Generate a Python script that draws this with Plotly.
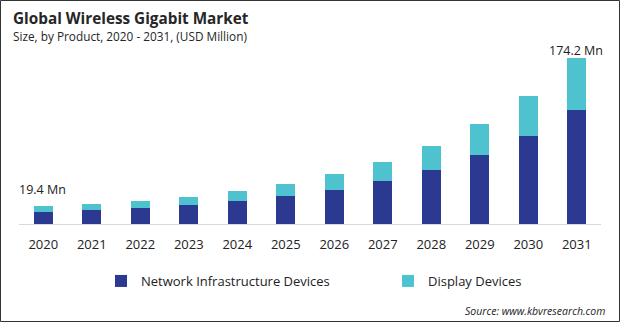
import plotly.graph_objects as go

years = ["2020", "2021", "2022", "2023", "2024", "2025", "2026", "2027", "2028", "2029", "2030", "2031"]
network = [13.0, 14.7, 16.8, 19.9, 24.1, 29.4, 35.7, 45.1, 56.7, 72.4, 92.3, 119.6]
display = [6.4, 6.3, 7.3, 8.4, 10.5, 12.6, 16.8, 19.9, 25.2, 32.5, 42.0, 54.6]
series_names = ["Network Infrastructure Devices", "Display Devices"]
first_label = "19.4 Mn"
last_label = "174.2 Mn"

W, H = 620, 322
ML, MR, MT, MB = 19, 19, 40, 98
PW = W - ML - MR
PH = H - MT - MB
ymax = 174.2 * PH / 166.0

NAVY = "#2B3990"
CYAN = "#4EC3CF"
FONT = "Open Sans"

fig = go.Figure()
fig.add_trace(go.Bar(x=years, y=network, name=series_names[0], marker_color=NAVY,
                     marker_line_width=0, legend="legend"))
fig.add_trace(go.Bar(x=years, y=display, name=series_names[1], marker_color=CYAN,
                     marker_line_width=0, legend="legend2"))

totals = [a + b for a, b in zip(network, display)]

fig.add_annotation(x=0, y=totals[0], text=first_label, showarrow=False,
                   xanchor="center", yanchor="bottom", yshift=6, xshift=-1,
                   font=dict(family=FONT, size=12.5, color="#222222"))
fig.add_annotation(x=len(years) - 1, y=totals[-1], text=last_label, showarrow=False,
                   xanchor="center", yanchor="bottom", yshift=-3, xshift=-1,
                   font=dict(family=FONT, size=12.5, color="#222222"))


def px_x(p):
    return (p - ML) / PW


def px_y(p):
    return 1 - (p - MT) / PH


# title and subtitle
fig.add_annotation(xref="paper", yref="paper", x=px_x(11), y=px_y(18), text="<b>Global Wireless Gigabit Market</b>",
                   showarrow=False, xanchor="left", yanchor="middle",
                   font=dict(family=FONT, size=15.3, color="#262626"))
fig.add_annotation(xref="paper", yref="paper", x=px_x(11), y=px_y(36), text="Size, by Product, 2020 - 2031, (USD Million)",
                   showarrow=False, xanchor="left", yanchor="middle",
                   font=dict(family=FONT, size=11.8, color="#262626"))
fig.add_annotation(xref="paper", yref="paper", x=px_x(607), y=px_y(311), text="<i>Source: www.kbvresearch.com</i>",
                   showarrow=False, xanchor="right", yanchor="middle",
                   font=dict(family=FONT, size=10.5, color="#222222"))

# frame
fig.add_shape(type="rect", xref="paper", yref="paper",
              x0=px_x(0.5), x1=px_x(619.5), y0=px_y(321.5), y1=px_y(0.5),
              line=dict(color="#333333", width=1))

legend_common = dict(orientation="h", xanchor="left", yanchor="middle",
                     font=dict(family=FONT, size=13, color="#222222"),
                     itemwidth=30, bgcolor="rgba(0,0,0,0)")

fig.update_layout(
    width=W, height=H,
    margin=dict(l=ML, r=MR, t=MT, b=MB, pad=0),
    barmode="stack", bargap=0.6,
    plot_bgcolor="white", paper_bgcolor="white",
    showlegend=True,
    legend=dict(x=px_x(101), y=px_y(281), **legend_common),
    legend2=dict(x=px_x(388), y=px_y(281), **legend_common),
    xaxis=dict(type="category", range=[-0.5, len(years) - 0.5], showgrid=False, showline=True,
               linecolor="#D9D9D9", linewidth=1,
               ticks="", tickfont=dict(family=FONT, size=13, color="#222222"), ticklabelstandoff=8),
    yaxis=dict(range=[0, ymax], visible=False, showgrid=False, zeroline=False),
    font=dict(family=FONT),
)

fig.write_html("out.html")
